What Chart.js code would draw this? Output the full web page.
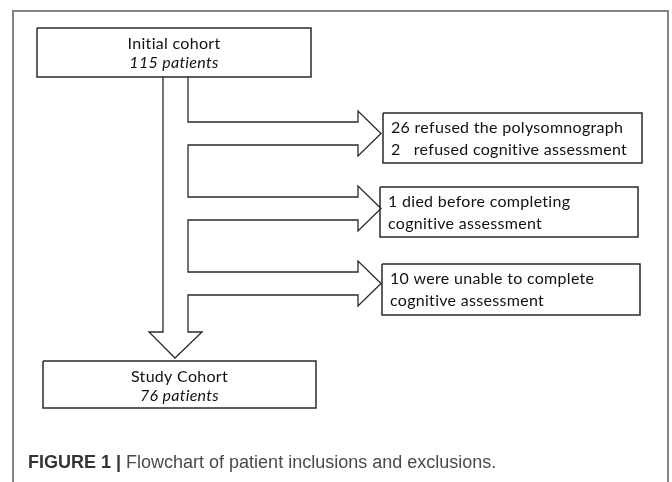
<!DOCTYPE html>
<html>
<head>
<meta charset="utf-8">
<script src="https://cdn.jsdelivr.net/npm/chart.js@4"></script>
<style>
  body { margin: 0; background: #fff; }
  canvas { display: block; }
</style>
</head>
<body>
<canvas id="chart" width="672" height="482"></canvas>
<script>
// cohort counts
const initialLabel = 'Initial cohort';
const initialCount = 115;
const finalLabel = 'Study Cohort';
const finalCount = 76;

// exclusion steps, one box per step
const exclusionLines = [
    ['26 refused the polysomnograph', '2   refused cognitive assessment'],
    ['1 died before completing', 'cognitive assessment'],
    ['10 were unable to complete', 'cognitive assessment']
];

const captionBold = 'FIGURE 1 | ';
const captionText = 'Flowchart of patient inclusions and exclusions.';

// layout (page units, y grows downward)
const topBox = { x0: 37, y0: 28, x1: 311, y1: 77 };
const bottomBox = { x0: 43, y0: 361, x1: 316, y1: 408 };
const sideBoxes = [
    { x0: 383, y0: 113, x1: 642, y1: 163 },
    { x0: 380, y0: 187, x1: 638, y1: 237 },
    { x0: 382, y0: 264, x1: 640, y1: 315 }
];
const arrowMid = [133.5, 208.5, 283.5];
const shaftL = 163, shaftR = 188, headBase = 358, tipX = 381;

function boxPath(b) {
    return [
        { x: b.x0, y: b.y0 }, { x: b.x1, y: b.y0 },
        { x: b.x1, y: b.y1 }, { x: b.x0, y: b.y1 }, { x: b.x0, y: b.y0 }
    ];
}

function flowPath() {
    const pts = [{ x: shaftL, y: topBox.y1 }, { x: shaftL, y: 332 },
        { x: 149, y: 332 }, { x: 175, y: bottomBox.y0 - 3 }, { x: 202, y: 332 },
        { x: shaftR, y: 332 }];
    for (let i = arrowMid.length - 1; i >= 0; i--) {
        const m = arrowMid[i];
        pts.push({ x: shaftR, y: m + 11.5 }, { x: headBase, y: m + 11.5 },
            { x: headBase, y: m + 22.5 }, { x: tipX, y: m },
            { x: headBase, y: m - 22.5 }, { x: headBase, y: m - 11.5 },
            { x: shaftR, y: m - 11.5 });
    }
    pts.push({ x: shaftR, y: topBox.y1 });
    return pts;
}

const frame = [{ x: 13, y: 482 }, { x: 13, y: 11 }, { x: 668, y: 11 }, { x: 668, y: 482 }];

function lineSet(data, color, width) {
    return {
        data: data, showLine: true, fill: false, tension: 0,
        borderColor: color, borderWidth: width, pointRadius: 0
    };
}

const datasets = [
    lineSet(frame, '#858585', 2),
    lineSet(flowPath(), '#2a2a2a', 1.3),
    lineSet(boxPath(topBox), '#2a2a2a', 1.5),
    lineSet(boxPath(bottomBox), '#2a2a2a', 1.5)
].concat(sideBoxes.map(b => lineSet(boxPath(b), '#2a2a2a', 1.5)));

const textPlugin = {
    id: 'boxText',
    afterDraw(chart) {
        const c = chart.ctx;
        const sx = chart.scales.x, sy = chart.scales.y;
        const px = v => sx.getPixelForValue(v);
        const py = v => sy.getPixelForValue(v);
        c.save();
        c.fillStyle = '#111';
        c.textBaseline = 'middle';
        c.letterSpacing = '0.3px';

        function centered(b, title, count) {
            const cx = px((b.x0 + b.x1) / 2);
            c.textAlign = 'center';
            c.font = '16px Lato';
            c.fillText(title, cx, py(b.y0 + 16));
            c.font = 'italic 16px Lato';
            c.fillText(count + ' patients', cx, py(b.y0 + 35));
        }
        centered(topBox, initialLabel, initialCount);
        centered(bottomBox, finalLabel, finalCount);

        c.textAlign = 'left';
        c.font = '16px Lato';
        sideBoxes.forEach((b, i) => {
            exclusionLines[i].forEach((t, j) => {
                c.fillText(t, px(b.x0 + 8), py(b.y0 + 15 + j * 22));
            });
        });

        c.letterSpacing = '0px';
        c.fillStyle = '#333';
        c.font = 'bold 18px "Liberation Sans"';
        const cy = py(463);
        c.fillText(captionBold, px(28), cy);
        const w = c.measureText(captionBold).width;
        c.font = '18px "Liberation Sans"';
        c.fillStyle = '#4a4a4a';
        c.fillText(captionText, px(28) + w, cy);
        c.restore();
    }
};

const chart = new Chart(document.getElementById('chart').getContext('2d'), {
    type: 'scatter',
    data: { datasets: datasets },
    options: {
        responsive: false,
        animation: false,
        layout: { padding: 0 },
        scales: {
            x: { type: 'linear', min: 0, max: 672, display: false },
            y: { type: 'linear', min: 0, max: 482, reverse: true, display: false }
        },
        plugins: { legend: { display: false }, tooltip: { enabled: false } }
    },
    plugins: [textPlugin]
});
</script>
</body>
</html>
